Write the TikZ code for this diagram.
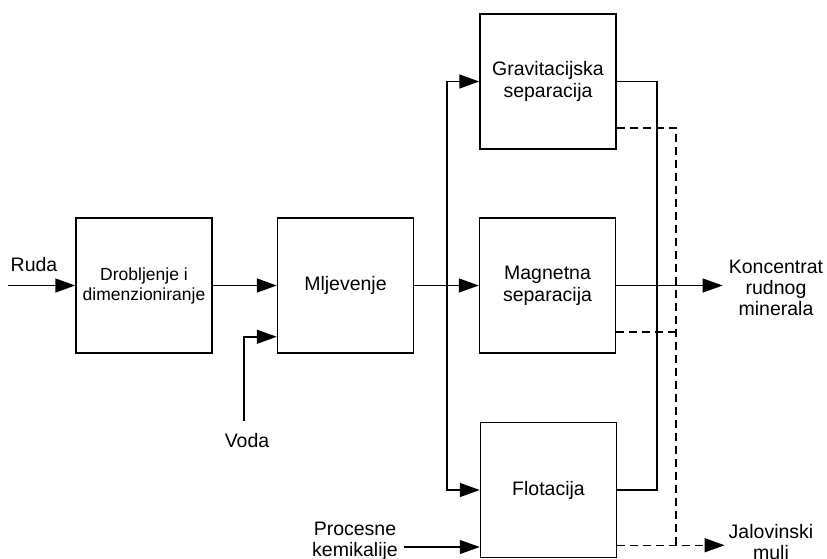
\documentclass[tikz,border=0pt]{standalone}
\usepackage{fontspec}
\setmainfont{Liberation Sans}
\usetikzlibrary{arrows.meta,calc}
\begin{document}
\begin{tikzpicture}[x=1pt,y=-1pt,
    stage/.style={draw,line width=1.5pt,minimum width=136pt,minimum height=135pt,inner sep=0pt,align=center,font=\fontsize{19.5}{22}\selectfont},
    lbl/.style={align=center,inner sep=1pt,font=\fontsize{19.5}{21}\selectfont},
    flow/.style={line width=1.5pt,-{Triangle[length=20pt,width=14pt]}},
    line/.style={line width=1.5pt},
    waste/.style={line width=1.5pt,dash pattern=on 8pt off 5pt}]
  \useasboundingbox (0,0) rectangle (827,558);
  \node[stage,font=\fontsize{17.5}{20}\selectfont] (drob) at (144,285.5) {Drobljenje i\\dimenzioniranje};
  \node[stage] (mlj) at (345.5,285.5) {Mljevenje};
  \node[stage] (grav) at (548,81.5) {Gravitacijska\\separacija};
  \node[stage] (mag) at (547.5,285.5) {Magnetna\\separacija};
  \node[stage] (flot) at (548.5,490) {Flotacija};
  \node[lbl] (ruda) at (34,265) {Ruda};
  \node[lbl] (voda) at (247,441) {Voda};
  \node[lbl] (proc) at (355,541) {Procesne\\kemikalije};
  \node[lbl] (konc) at (776,288) {Koncentrat\\rudnog\\minerala};
  \node[lbl] (jal) at (771,544) {Jalovinski\\mulj};
  \coordinate (in) at (8,285.5);
  \coordinate (vup) at (244,421);
  \coordinate (bus) at (447,285.5);
  \coordinate (sol) at (657,0);
  \coordinate (dsh) at (676,0);
  \coordinate (kem) at (404,547);
  \coordinate (gw) at ($(grav.south east)+(0,-22)$);
  \coordinate (mw) at ($(mag.south east)+(0,-22)$);
  \coordinate (fw) at ($(flot.south east)+(0,-13)$);
  \draw[flow] (in) -- (drob.west);
  \draw[flow] (drob.east) -- (mlj.west);
  \draw[flow] (vup) |- ($(mlj.south west)+(0,-17)$);
  \draw[line] (mlj.east) -- (bus);
  \draw[flow] (bus) |- (grav.west);
  \draw[flow] (bus) -- (mag.west);
  \draw[flow] (bus) |- (flot.west);
  \draw[flow,line width=1.2pt] (kem) -- (kem -| flot.west);
  \draw[line] (grav.east) -- (grav.east -| sol) -- (flot.east -| sol) -- (flot.east);
  \draw[line width=1pt,-{Triangle[length=20pt,width=14pt]}] (mag.east) -- ($(mag.east -| konc.west)+(-5,0)$);
  \draw[waste] (gw) -| (dsh |- fw);
  \draw[waste] (mw) -- (mw -| dsh);
  \draw[waste,-{Triangle[length=20pt,width=14pt]}] (fw) -- ($(fw -| jal.west)+(-3,0)$);
\end{tikzpicture}
\end{document}
